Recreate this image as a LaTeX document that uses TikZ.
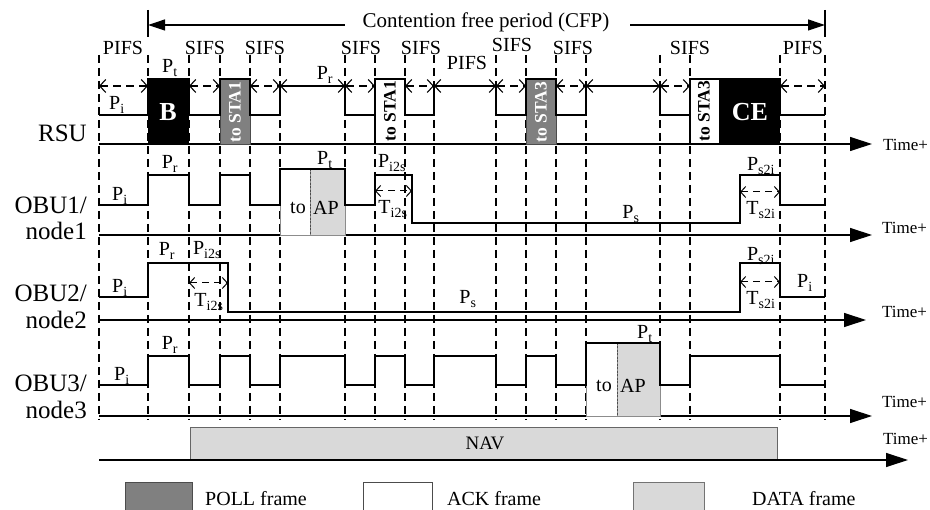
\documentclass[tikz,border=0pt]{standalone}
\usepackage{fontspec}
\setmainfont{Liberation Serif}
\usetikzlibrary{arrows.meta}
\newcommand\sbs[1]{\textsubscript{#1}}
\begin{document}
\begin{tikzpicture}[x=1pt,y=-1pt,
  sig/.style={line width=2.6pt, line join=miter, line cap=butt},
  axisline/.style={line width=1.2pt, -{Triangle[length=22pt,width=14pt]}},
  vdash/.style={line width=1.1pt, dash pattern=on 8pt off 5pt},
  dbl/.style={line width=1.1pt, dash pattern=on 8pt off 5pt, {Straight Barb[length=6pt,width=13pt]}-{Straight Barb[length=6pt,width=13pt]}},
  tdbl/.style={line width=1.0pt, dash pattern=on 7pt off 5pt, {Straight Barb[length=5pt,width=11pt]}-{Straight Barb[length=5pt,width=11pt]}},
  lbl/.style={font=\fontsize{20}{22}\selectfont, inner sep=0pt},
  side/.style={font=\fontsize{25}{25}\selectfont, inner sep=0pt, anchor=east},
  tplus/.style={font=\fontsize{17}{18}\selectfont, inner sep=0pt, anchor=west},
  rot/.style={rotate=90, font=\fontsize{17.5}{17.5}\selectfont\bfseries, inner sep=0pt},
  big/.style={font=\fontsize{26}{26}\selectfont\bfseries, text=white, inner sep=0pt},
  pollfill/.style={fill=black!50, draw=black!70, line width=0.8pt},
  datafill/.style={fill=black!15, draw=black!55, line width=0.8pt},
  ackfill/.style={fill=white, draw=black!70, line width=0.8pt}
]
\useasboundingbox (0,0) rectangle (930,510);

% ---------- CFP arrow ----------
\draw[line width=1.2pt] (148,10) -- (148,37);
\draw[line width=1.2pt] (825,10) -- (825,37);
\node[lbl, font=\fontsize{21}{22}\selectfont] (cfp) at (486,22) {Contention free period (CFP)};
\coordinate (cfpL) at (148,25);
\coordinate (cfpR) at (825,25);
\coordinate (cfpA) at (345,25);
\coordinate (cfpB) at (630,25);
\draw[line width=1.2pt, {Triangle[length=17pt,width=11pt]}-] (cfpL) -- (cfpA);
\draw[line width=1.2pt, -{Triangle[length=17pt,width=11pt]}] (cfpB) -- (cfpR);

% ---------- interval labels ----------
\node[lbl] (l1) at (123,48) {PIFS};
\node[lbl] (l2) at (205,48) {SIFS};
\node[lbl] (l3) at (265,48) {SIFS};
\node[lbl] (l4) at (361,48) {SIFS};
\node[lbl] (l5) at (421,48) {SIFS};
\node[lbl] (l6) at (467,63) {PIFS};
\node[lbl] (l7) at (512,45) {SIFS};
\node[lbl] (l8) at (573,48) {SIFS};
\node[lbl] (l9) at (690,48) {SIFS};
\node[lbl] (l10) at (803,48) {PIFS};

% ---------- NAV ----------
\draw[fill=black!15, draw=black!60, line width=0.8pt] (190,427) rectangle (777,460);
\node[lbl, font=\fontsize{19}{20}\selectfont] (nav) at (485,443) {NAV};

% ---------- dashed verticals ----------
\foreach \xx in {99,148,189,220,250,280,345,375,405,434,496,526,556,586,660,690,780,825}
  \draw[vdash] (\xx,55) -- (\xx,420);

% ---------- axes ----------
\draw[axisline] (99,144) -- (872,144);
\draw[axisline] (99,235) -- (872,235);
\draw[axisline] (99,320) -- (866,320);
\draw[axisline] (99,416) -- (872,416);
\draw[axisline] (99,460) -- (908,460);
\node[tplus] (t1) at (883,145) {Time+};
\node[tplus] (t2) at (882,228) {Time+};
\node[tplus] (t3) at (882,312) {Time+};
\node[tplus] (t4) at (882,402) {Time+};
\node[tplus] (t5) at (883,439) {Time+};

% ---------- side labels ----------
\node[side] (rsu) at (87,133) {RSU};
\node[side] (o1a) at (87,205) {OBU1/};
\node[side] (o1b) at (87,231) {node1};
\node[side] (o2a) at (87,293) {OBU2/};
\node[side] (o2b) at (87,320) {node2};
\node[side] (o3a) at (87,383) {OBU3/};
\node[side] (o3b) at (87,410) {node3};

% ---------- RSU ----------
\foreach \a/\b in {99/148,189/220,250/280,280/345,345/375,405/434,434/496,496/526,556/586,586/660,660/690,780/825}
  \draw[dbl] (\a,86) -- (\b,86);
\fill[black] (148,79) rectangle (189,144);
\node[big] (bb) at (168,112) {B};
\draw[pollfill] (220,79) rectangle (250,144);
\node[rot, text=white] (s1) at (235,112) {to STA1};
\draw[pollfill] (526,79) rectangle (556,144);
\node[rot, text=white] (s3) at (541,112) {to STA3};
\fill[white] (376,80) rectangle (404,143);
\node[rot] (s1b) at (390,111) {to STA1};
\fill[black] (719,79) rectangle (780,144);
\node[rot] (s3b) at (704,111) {to STA3};
\node[big] (ce) at (750,112) {CE};
\draw[sig] (99,115) -- (148,115) -- (148,79) -- (189,79) -- (189,115) -- (220,115) -- (220,79) -- (250,79) -- (250,115)
  -- (280,115) -- (280,86) -- (345,86) -- (345,115) -- (375,115) -- (375,79) -- (405,79) -- (405,115) -- (434,115)
  -- (434,86) -- (496,86) -- (496,115) -- (526,115) -- (526,79) -- (556,79) -- (556,115) -- (586,115) -- (586,86)
  -- (660,86) -- (660,115) -- (690,115) -- (690,79) -- (780,79) -- (780,115) -- (825,115);
\draw[line width=1.4pt] (375,79) -- (375,144);
\draw[line width=1.4pt] (690,79) -- (690,144);
\node[lbl] (rpi) at (117,105) {P\sbs{i}};
\node[lbl] (rpt) at (170,68) {P\sbs{t}};
\node[lbl] (rpr) at (325,75) {P\sbs{r}};

% ---------- OBU1 ----------
\draw[ackfill, draw=black!45] (280,169) rectangle (345,235);
\draw[datafill, draw=black!45] (310,169) rectangle (345,235);
\draw[line width=0.6pt, dash pattern=on 2pt off 1.5pt, black!70] (310,169) -- (310,235);
\node[lbl] (ap1a) at (298,208) {to};
\node[lbl] (ap1b) at (326,208) {AP};
\draw[sig] (99,205) -- (148,205) -- (148,175) -- (189,175) -- (189,205) -- (220,205) -- (220,175) -- (250,175) -- (250,205)
  -- (280,205) -- (280,169) -- (345,169) -- (345,205) -- (375,205) -- (375,175) -- (412,175) -- (412,223)
  -- (740,223) -- (740,175) -- (780,175) -- (780,205) -- (825,205);
\node[lbl] (o1pi) at (120,196) {P\sbs{i}};
\node[lbl] (o1pr) at (170,164) {P\sbs{r}};
\node[lbl] (o1pt) at (325,160) {P\sbs{t}};
\node[lbl] (o1pis) at (392,163) {P\sbs{i2s}};
\draw[tdbl] (375,191) -- (412,191);
\node[lbl] (o1tis) at (393,209) {T\sbs{i2s}};
\node[lbl] (o1ps) at (631,214) {P\sbs{s}};
\node[lbl] (o1psi) at (761,166) {P\sbs{s2i}};
\draw[tdbl] (740,192) -- (780,192);
\node[lbl] (o1tsi) at (761,210) {T\sbs{s2i}};

% ---------- OBU2 ----------
\draw[sig] (99,297) -- (148,297) -- (148,263) -- (228,263) -- (228,312) -- (740,312) -- (740,263) -- (780,263) -- (780,297) -- (825,297);
\node[lbl] (o2pi) at (120,288) {P\sbs{i}};
\node[lbl] (o2pr) at (167,251) {P\sbs{r}};
\node[lbl] (o2pis) at (207,250) {P\sbs{i2s}};
\draw[tdbl] (189,283) -- (228,283);
\node[lbl] (o2tis) at (209,302) {T\sbs{i2s}};
\node[lbl] (o2ps) at (468,299) {P\sbs{s}};
\node[lbl] (o2psi) at (761,256) {P\sbs{s2i}};
\draw[tdbl] (740,282) -- (780,282);
\node[lbl] (o2tsi) at (761,300) {T\sbs{s2i}};
\node[lbl] (o2pi2) at (805,283) {P\sbs{i}};

% ---------- OBU3 ----------
\draw[ackfill, draw=black!45] (586,343) rectangle (660,416);
\draw[datafill, draw=black!45] (617,343) rectangle (660,416);
\draw[line width=0.6pt, dash pattern=on 2pt off 1.5pt, black!70] (617,343) -- (617,416);
\node[lbl] (ap3a) at (604,386) {to};
\node[lbl] (ap3b) at (633,386) {AP};
\draw[sig] (99,385) -- (148,385) -- (148,356) -- (189,356) -- (189,385) -- (220,385) -- (220,356) -- (250,356) -- (250,385)
  -- (280,385) -- (280,356) -- (345,356) -- (345,385) -- (375,385) -- (375,356) -- (405,356) -- (405,385) -- (434,385)
  -- (434,356) -- (496,356) -- (496,385) -- (526,385) -- (526,356) -- (556,356) -- (556,385) -- (586,385) -- (586,343)
  -- (660,343) -- (660,385) -- (690,385) -- (690,356) -- (780,356) -- (780,385) -- (825,385);
\node[lbl] (o3pi) at (122,376) {P\sbs{i}};
\node[lbl] (o3pr) at (170,345) {P\sbs{r}};
\node[lbl] (o3pt) at (645,334) {P\sbs{t}};

% ---------- legend ----------
\draw[pollfill] (125,482) rectangle (192,515);
\node[lbl, anchor=west] (lg1) at (205,499) {POLL frame};
\draw[ackfill] (363,482) rectangle (432,515);
\node[lbl, anchor=west] (lg2) at (447,499) {ACK frame};
\draw[datafill] (633,482) rectangle (704,515);
\node[lbl, anchor=west] (lg3) at (752,499) {DATA frame};
\end{tikzpicture}
\end{document}
